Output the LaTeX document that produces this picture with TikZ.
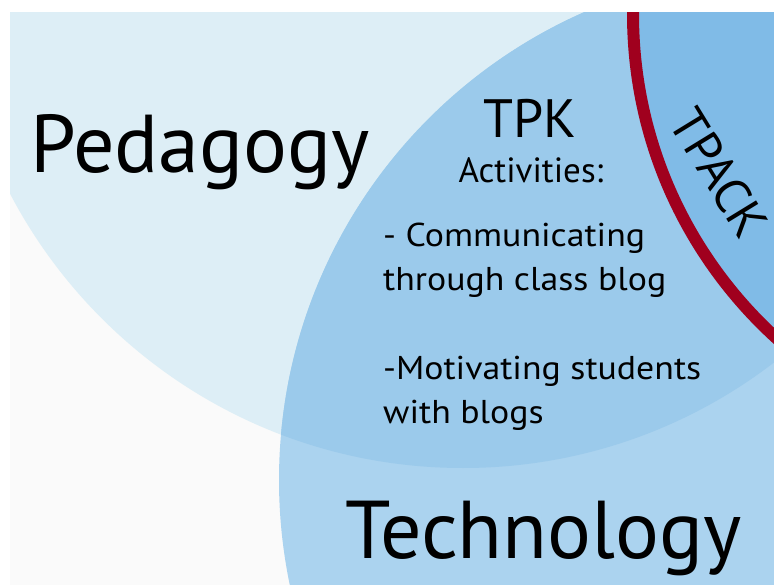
\documentclass[tikz,border=0pt]{standalone}
\usepackage{fontspec}
\setmainfont{PT Sans}
\definecolor{bggrey}{HTML}{FAFAFA}
\definecolor{pedfill}{HTML}{DDEEF6}
\definecolor{techfill}{HTML}{ABD3EF}
\definecolor{tpkfill}{HTML}{9BCAEB}
\definecolor{tpackfill}{HTML}{80BBE7}
\definecolor{tpackred}{HTML}{A0001E}
\newcommand{\itemtext}[1]{\scalebox{1.085}[1]{#1}}
\tikzset{
  lbl/.style={inner sep=0pt, text=black},
  bigfont/.style={font=\fontsize{82}{82}\selectfont},
  itemfont/.style={font=\fontsize{33}{33}\selectfont}
}
\begin{document}
\begin{tikzpicture}[x=1pt,y=-1pt]
\useasboundingbox (0,0) rectangle (774,585);
\fill[white] (0,0) rectangle (774,585);
\begin{scope}
  \clip (10,13) rectangle (774,585);
  \fill[bggrey] (10,13) rectangle (774,585);
  \fill[pedfill] (463,-43) circle (511pt);
  \fill[techfill] (790,480) circle (511pt);
  \begin{scope}
    \clip (463,-43) circle (511pt);
    \fill[tpkfill] (790,480) circle (511pt);
    \clip (790,480) circle (511pt);
    \fill[tpackfill] (1071,14) circle (438pt);
  \end{scope}
  \draw[tpackred, line width=12pt] (1071,14) circle (438pt);
\end{scope}
\node[lbl, bigfont, anchor=base west] (ped) at (30,173) {Pedagogy};
\node[lbl, bigfont, anchor=base west] (tech) at (345,558) {Technology};
\node[lbl, font=\fontsize{54}{54}\selectfont, anchor=base] (tpk) at (530,138) {TPK};
\node[lbl, font=\fontsize{35}{35}\selectfont, anchor=base] (act) at (531,183) {Activities:};
\node[lbl, itemfont, anchor=base west] (i1a) at (383,247) {\itemtext{- Communicating}};
\node[lbl, itemfont, anchor=base west] (i1b) at (383,291) {\itemtext{through class blog}};
\node[lbl, itemfont, anchor=base west] (i2a) at (383,380) {\itemtext{-Motivating students}};
\node[lbl, itemfont, anchor=base west] (i2b) at (383,423) {\itemtext{with blogs}};
\node[lbl, font=\fontsize{50}{50}\selectfont, rotate=-58.5] (tpack) at (719,173) {TPACK};
\end{tikzpicture}
\end{document}
